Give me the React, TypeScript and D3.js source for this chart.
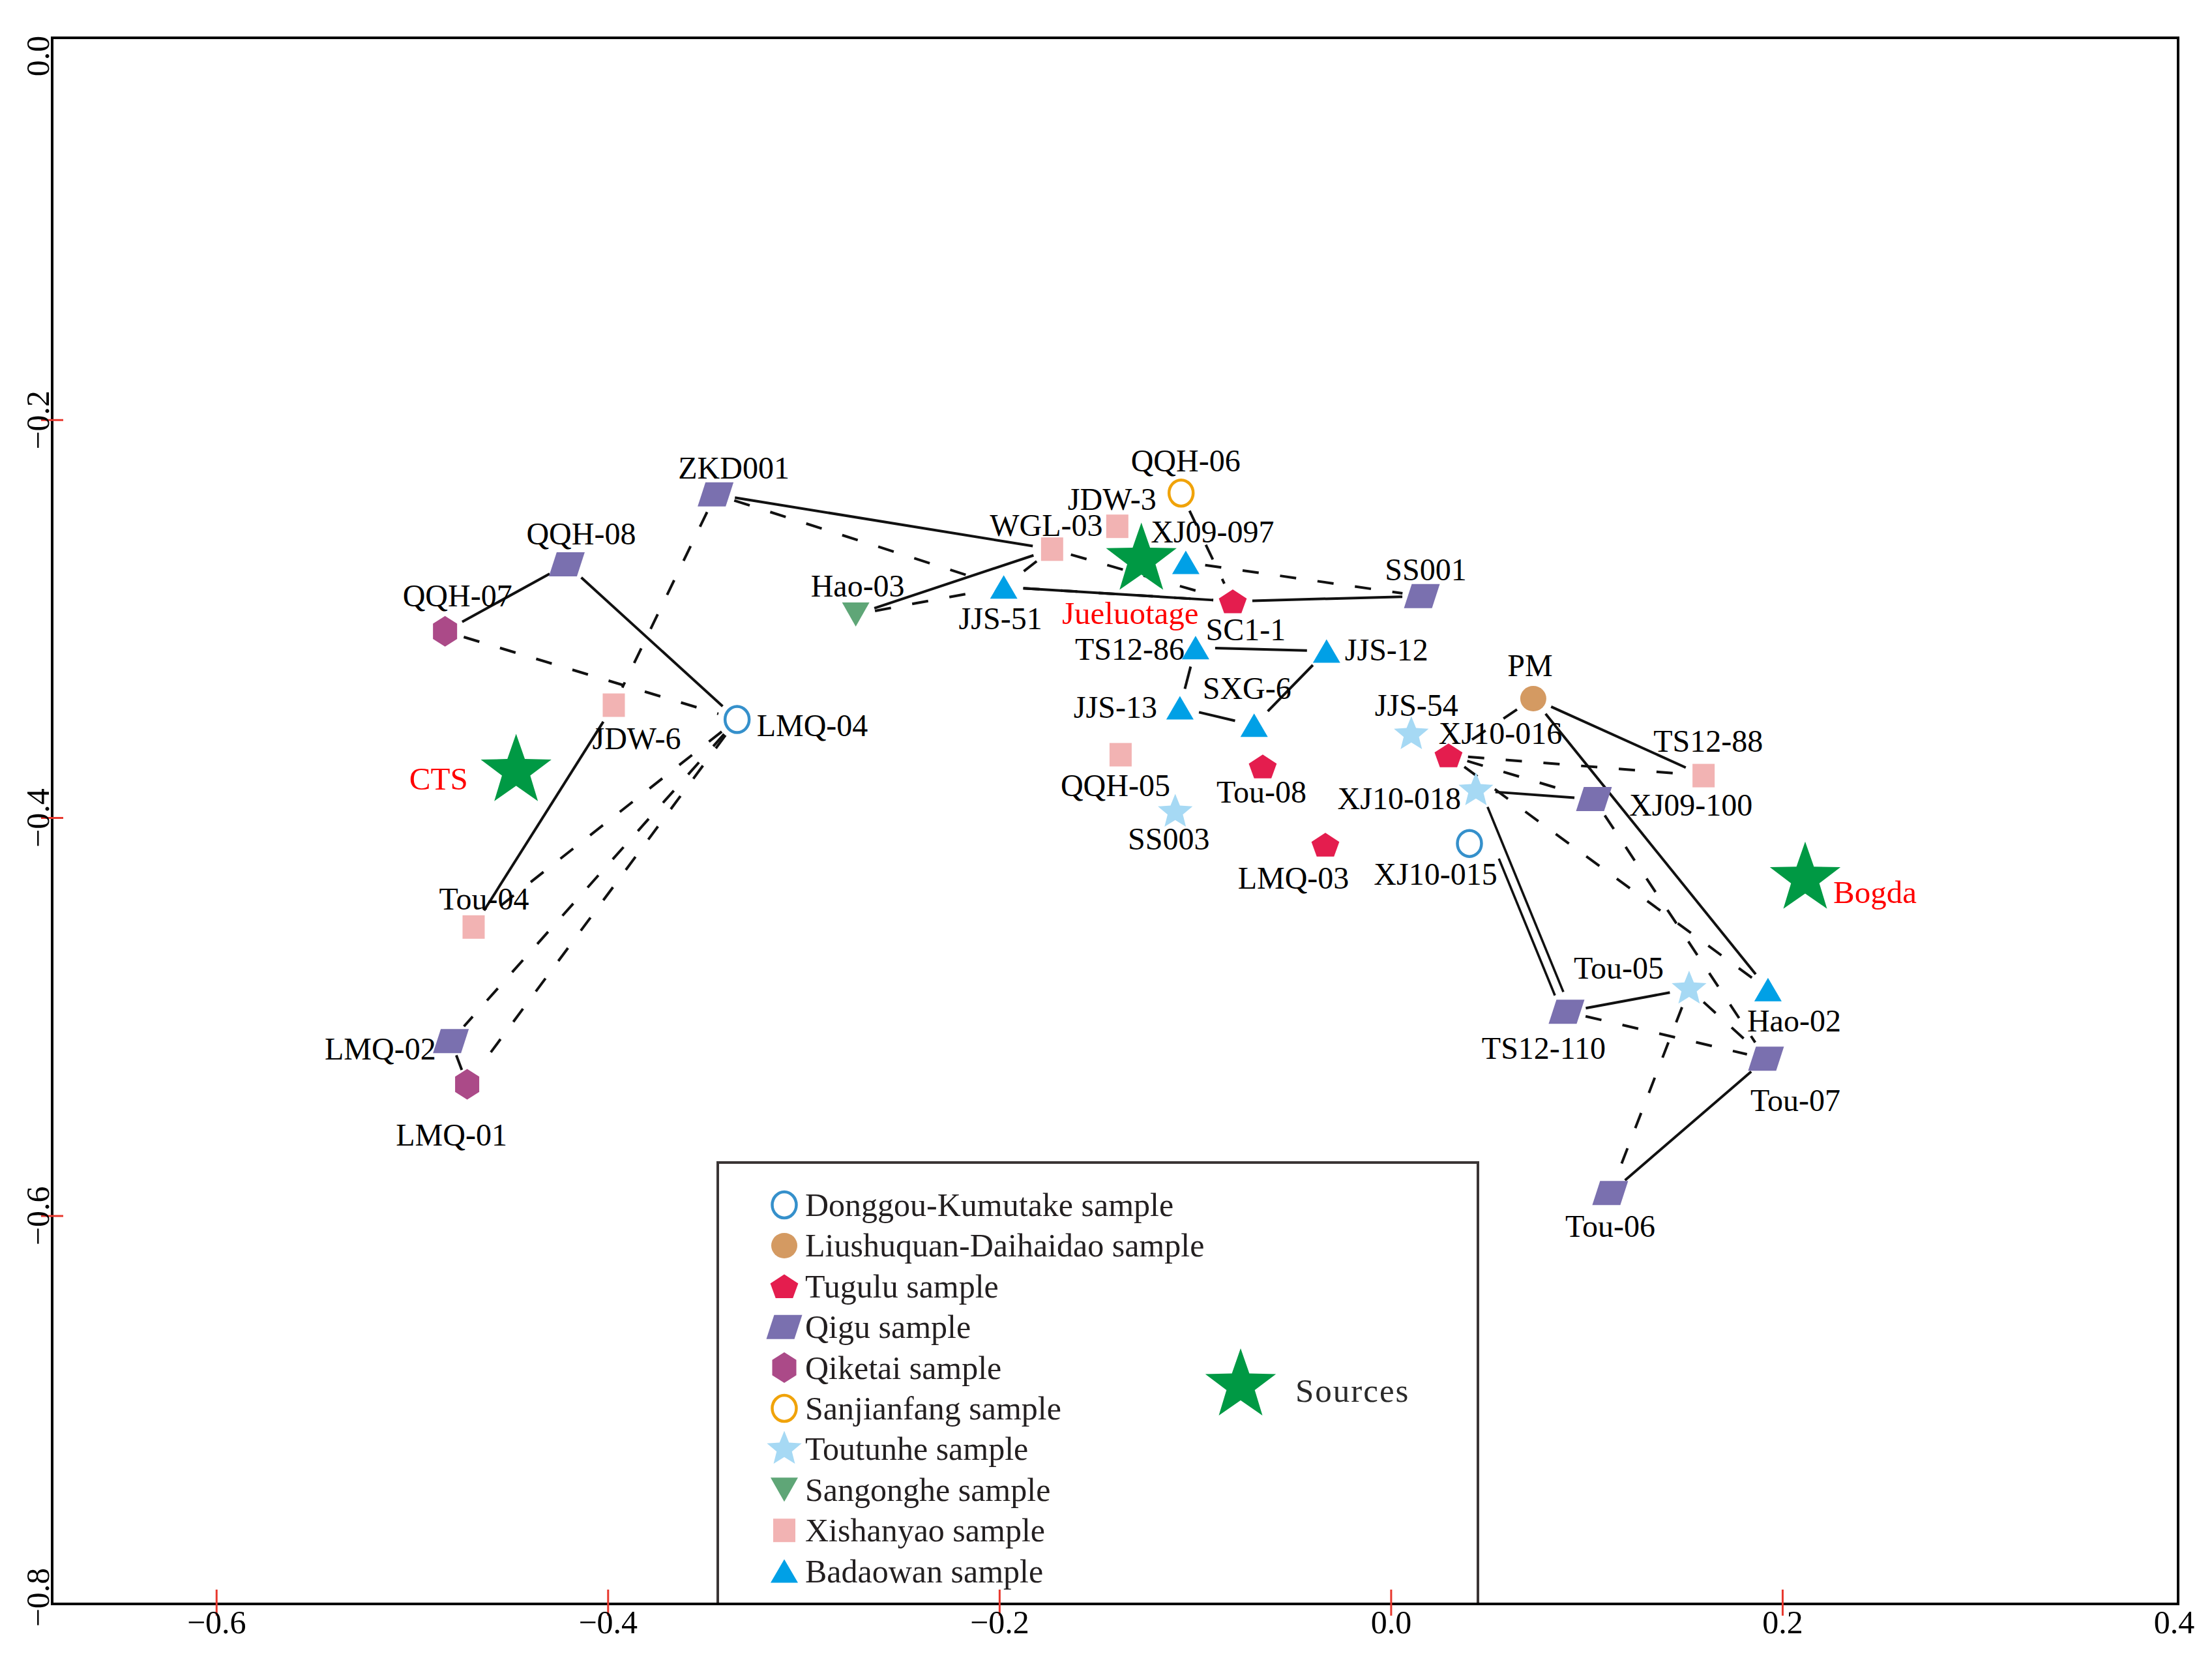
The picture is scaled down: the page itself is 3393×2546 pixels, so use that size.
import React from 'react';
import * as d3 from 'd3';

// ---------------- DATA ----------------
const groups = [
  'Donggou-Kumutake',
  'Liushuquan-Daihaidao',
  'Tugulu',
  'Qigu',
  'Qiketai',
  'Sanjianfang',
  'Toutunhe',
  'Sangonghe',
  'Xishanyao',
  'Badaowan',
];

const sampleNames = [
  'ZKD001', 'QQH-08', 'QQH-07', 'JDW-6', 'LMQ-04', 'Hao-03', 'QQH-06', 'JDW-3', 'WGL-03',
  'XJ09-097', 'JJS-51', 'SC1-1', 'SS001', 'TS12-86', 'JJS-12', 'JJS-13', 'SXG-6', 'JJS-54',
  'QQH-05', 'Tou-08', 'SS003', 'LMQ-03', 'XJ10-016', 'PM', 'XJ10-018', 'TS12-88', 'XJ09-100',
  'XJ10-015', 'Tou-05', 'Hao-02', 'TS12-110', 'Tou-07', 'Tou-06', 'Tou-04', 'LMQ-02', 'LMQ-01',
];
const sampleGroups = [
  'Qigu', 'Qigu', 'Qiketai', 'Xishanyao', 'Donggou-Kumutake', 'Sangonghe', 'Sanjianfang', 'Xishanyao', 'Xishanyao',
  'Badaowan', 'Badaowan', 'Tugulu', 'Qigu', 'Badaowan', 'Badaowan', 'Badaowan', 'Badaowan', 'Toutunhe',
  'Xishanyao', 'Tugulu', 'Toutunhe', 'Tugulu', 'Tugulu', 'Liushuquan-Daihaidao', 'Toutunhe', 'Xishanyao', 'Qigu',
  'Donggou-Kumutake', 'Toutunhe', 'Badaowan', 'Qigu', 'Qigu', 'Qigu', 'Xishanyao', 'Qigu', 'Qiketai',
];
const sampleX = [
  -0.3451, -0.4211, -0.4833, -0.3971, -0.3341, -0.2735, -0.1073, -0.1399, -0.1732,
  -0.1049, -0.1979, -0.0809, 0.0157, -0.0999, -0.033, -0.1079, -0.07, 0.0103,
  -0.1382, -0.0656, -0.1103, -0.0336, 0.0293, 0.0726, 0.0433, 0.1596, 0.1036,
  0.04, 0.1522, 0.1925, 0.0896, 0.1915, 0.1119, -0.4687, -0.4803, -0.472,
];
const sampleY = [
  -0.2374, -0.2725, -0.3062, -0.3433, -0.3505, -0.2977, -0.2367, -0.2534, -0.2649,
  -0.2715, -0.2839, -0.2911, -0.2885, -0.3144, -0.3161, -0.3446, -0.3534, -0.358,
  -0.3682, -0.3741, -0.397, -0.4134, -0.3685, -0.34, -0.3862, -0.3787, -0.3905,
  -0.4128, -0.4859, -0.4862, -0.4974, -0.521, -0.5885, -0.4548, -0.5121, -0.5338,
];

const sourceNames = ['CTS', 'Jueluotage', 'Bogda'];
const sourceX = [-0.447, -0.1276, 0.2115];
const sourceY = [-0.3764, -0.2702, -0.4305];

const solidLinks = [
  ['QQH-07', 'QQH-08'], ['QQH-08', 'LMQ-04'], ['ZKD001', 'WGL-03'], ['Hao-03', 'WGL-03'],
  ['JJS-51', 'SC1-1'], ['SC1-1', 'SS001'], ['TS12-86', 'JJS-12'], ['TS12-86', 'JJS-13'],
  ['JJS-13', 'SXG-6'], ['SXG-6', 'JJS-12'], ['JDW-6', 'Tou-04'], ['LMQ-02', 'LMQ-01'],
  ['PM', 'TS12-88'], ['PM', 'Hao-02'], ['XJ10-018', 'XJ09-100'], ['TS12-110', 'Tou-05'],
  ['Tou-07', 'Tou-06'],
];
const doubleLinks = [['XJ10-018', 'TS12-110']];
const dashedLinks = [
  ['QQH-07', 'LMQ-04'], ['ZKD001', 'JDW-6'], ['ZKD001', 'JJS-51'], ['Hao-03', 'JJS-51'],
  ['WGL-03', 'JJS-51'], ['WGL-03', 'SC1-1'], ['JJS-51', 'SC1-1'], ['QQH-06', 'SC1-1'],
  ['XJ09-097', 'SS001'], ['LMQ-04', 'Tou-04'], ['LMQ-04', 'LMQ-02'], ['LMQ-04', 'LMQ-01'],
  ['PM', 'XJ10-016'], ['XJ10-016', 'TS12-88'], ['XJ10-016', 'XJ09-100'], ['XJ10-016', 'Hao-02'],
  ['XJ09-100', 'Tou-07'], ['Tou-05', 'Tou-07'], ['TS12-110', 'Tou-07'], ['Tou-05', 'Tou-06'],
];

const xTicks = [-0.6, -0.4, -0.2, 0.0, 0.2, 0.4];
const xTickMarks = [-0.6, -0.4, -0.2, 0.0, 0.2];
const yTicks = [0.0, -0.2, -0.4, -0.6, -0.8];
const yTickMarks = [-0.2, -0.4, -0.6];

// ---------------- LAYOUT / STYLE ----------------
const W = 3393;
const H = 2546;
const frame = { left: 80, right: 3341, top: 58, bottom: 2460 };
const xView = [-0.684, 0.402];
const yView = [-0.795, -0.0079];
const FONT = '"Liberation Serif", "Times New Roman", Times, serif';

const groupStyle: Record<string, { shape: string; color: string }> = {
  'Donggou-Kumutake': { shape: 'circleOpen', color: '#3590cb' },
  'Liushuquan-Daihaidao': { shape: 'circle', color: '#d49a62' },
  Tugulu: { shape: 'pentagon', color: '#e41d4e' },
  Qigu: { shape: 'parallelogram', color: '#7a70af' },
  Qiketai: { shape: 'hexagon', color: '#ab4a88' },
  Sanjianfang: { shape: 'circleOpen', color: '#f0a30a' },
  Toutunhe: { shape: 'star', color: '#a6d9f4' },
  Sangonghe: { shape: 'triangleDown', color: '#5fa677' },
  Xishanyao: { shape: 'square', color: '#f2b3b3' },
  Badaowan: { shape: 'triangle', color: '#00a0e6' },
};

// label offsets in px relative to marker: [dx, dy(baseline), anchor]
const labelOffsets: Record<string, [number, number, string]> = {
  ZKD001: [28, -24, 'middle'],
  'QQH-08': [22, -30, 'middle'],
  'QQH-07': [19, -38, 'middle'],
  'JDW-6': [35, 67, 'middle'],
  'LMQ-04': [30, 25, 'start'],
  'Hao-03': [3, -27, 'middle'],
  'QQH-06': [7, -33, 'middle'],
  'JDW-3': [-8, -25, 'middle'],
  'WGL-03': [-9, -20, 'middle'],
  'XJ09-097': [41, -30, 'middle'],
  'JJS-51': [-5, 65, 'middle'],
  'SC1-1': [20, 60, 'middle'],
  SS001: [6, -24, 'middle'],
  'TS12-86': [-17, 19, 'end'],
  'JJS-12': [28, 14, 'start'],
  'SXG-6': [-11, -40, 'middle'],
  'JJS-13': [-35, 15, 'end'],
  'JJS-54': [8, -28, 'middle'],
  'QQH-05': [-8, 63, 'middle'],
  'Tou-08': [-2, 55, 'middle'],
  SS003: [-10, 58, 'middle'],
  'LMQ-03': [-49, 68, 'middle'],
  PM: [-5, -34, 'middle'],
  'XJ10-016': [-15, -17, 'start'],
  'TS12-88': [7, -37, 'middle'],
  'XJ10-018': [-23, 29, 'end'],
  'XJ09-100': [54, 25, 'start'],
  'XJ10-015': [-52, 63, 'middle'],
  'Tou-05': [-39, -16, 'end'],
  'Hao-02': [40, 64, 'middle'],
  'TS12-110': [-35, 72, 'middle'],
  'Tou-07': [45, 80, 'middle'],
  'Tou-06': [0, 67, 'middle'],
  'Tou-04': [16, -27, 'middle'],
  'LMQ-02': [-23, 28, 'end'],
  'LMQ-01': [-24, 94, 'middle'],
  CTS: [-74, 28, 'end'],
  Jueluotage: [-17, 99, 'middle'],
  Bogda: [43, 37, 'start'],
};

function starPath(R: number, ratio: number) {
  const pts: [number, number][] = [];
  for (let i = 0; i < 10; i++) {
    const a = -Math.PI / 2 + (i * Math.PI) / 5;
    const r = i % 2 === 0 ? R : R * ratio;
    pts.push([r * Math.cos(a), r * Math.sin(a)]);
  }
  return 'M' + pts.map((p) => p.join(',')).join('L') + 'Z';
}

function pentagonPath(R: number, sy: number) {
  const pts: [number, number][] = [];
  const off = 0.0955 * R * sy;
  for (let i = 0; i < 5; i++) {
    const a = -Math.PI / 2 + (i * 2 * Math.PI) / 5;
    pts.push([R * Math.cos(a), R * Math.sin(a) * sy + off]);
  }
  return 'M' + pts.map((p) => p.join(',')).join('L') + 'Z';
}

function Marker({ shape, color, cx, cy }: { shape: string; color: string; cx: number; cy: number }) {
  const t = `translate(${cx},${cy})`;
  switch (shape) {
    case 'circleOpen':
      return <ellipse cx={cx} cy={cy} rx={18.5} ry={20} fill="white" stroke={color} strokeWidth={4.5} />;
    case 'circle':
      return <ellipse cx={cx} cy={cy} rx={20} ry={19.5} fill={color} />;
    case 'pentagon':
      return <path transform={t} d={pentagonPath(22.5, 0.9)} fill={color} />;
    case 'parallelogram': {
      const w = 43, h = 37, s = 12;
      return (
        <path
          transform={t}
          d={`M${-w / 2 + s / 2},${-h / 2}L${w / 2 + s / 2},${-h / 2}L${w / 2 - s / 2},${h / 2}L${-w / 2 - s / 2},${h / 2}Z`}
          fill={color}
        />
      );
    }
    case 'hexagon': {
      const w = 37, h = 47;
      return (
        <path
          transform={t}
          d={`M0,${-h / 2}L${w / 2},${-h / 4}L${w / 2},${h / 4}L0,${h / 2}L${-w / 2},${h / 4}L${-w / 2},${-h / 4}Z`}
          fill={color}
        />
      );
    }
    case 'star':
      return <path transform={t} d={starPath(28, 0.44)} fill={color} />;
    case 'triangleDown': {
      const w = 42, h = 37;
      return <path transform={t} d={`M${-w / 2},${-h / 2}L${w / 2},${-h / 2}L0,${h / 2}Z`} fill={color} />;
    }
    case 'square':
      return <rect x={cx - 17} y={cy - 18} width={34} height={36} fill={color} />;
    case 'triangle': {
      const w = 42, h = 36;
      return <path transform={t} d={`M0,${-h / 2}L${w / 2},${h / 2}L${-w / 2},${h / 2}Z`} fill={color} />;
    }
    default:
      return null;
  }
}

export default function App() {
  const x = d3.scaleLinear().domain(xView).range([frame.left, frame.right]);
  const y = d3.scaleLinear().domain(yView).range([frame.bottom, frame.top]);

  const pos: Record<string, [number, number]> = {};
  sampleNames.forEach((n, i) => (pos[n] = [x(sampleX[i]), y(sampleY[i])]));
  sourceNames.forEach((n, i) => (pos[n] = [x(sourceX[i]), y(sourceY[i])]));

  const trimmed = (a: string, b: string, offset = 0, tStart = 0) => {
    const [x1, y1] = pos[a];
    const [x2, y2] = pos[b];
    const dx = x2 - x1, dy = y2 - y1;
    const len = Math.hypot(dx, dy);
    const ux = dx / len, uy = dy / len;
    const trim = Math.min(30, len * 0.33);
    const px = -uy * offset, py = ux * offset;
    const s = Math.max(trim, tStart * len);
    return {
      x1: x1 + ux * s + px,
      y1: y1 + uy * s + py,
      x2: x2 - ux * trim + px,
      y2: y2 - uy * trim + py,
    };
  };

  const fmt = (v: number) => (v < 0 ? '\u2212' : '') + Math.abs(v).toFixed(1);

  const legendX = 1203;
  const legendY0 = 1848;
  const legendDy = 62.4;

  return (
    <svg
      width={W}
      height={H}
      viewBox={`0 0 ${W} ${H}`}
      style={{ position: 'absolute', left: 0, top: 0, background: 'white' }}
      fontFamily={FONT}
    >
      <rect x={0} y={0} width={W} height={H} fill="white" />

      {/* links */}
      <g stroke="#111" fill="none" strokeLinecap="butt">
        {solidLinks.map(([a, b], i) => {
          const l = trimmed(a, b);
          return <line key={'s' + i} {...l} strokeWidth={4} />;
        })}
        {doubleLinks.map(([a, b], i) => {
          const l1 = trimmed(a, b, -7);
          const l2 = trimmed(a, b, 7, 0.3);
          return (
            <g key={'d' + i}>
              <line {...l1} strokeWidth={3.6} />
              <line {...l2} strokeWidth={3.6} />
            </g>
          );
        })}
        {dashedLinks.map(([a, b], i) => {
          const l = trimmed(a, b);
          return <line key={'h' + i} {...l} strokeWidth={4} strokeDasharray="25 33" />;
        })}
      </g>

      {/* source stars */}
      {sourceNames.map((n) => (
        <path key={n} transform={`translate(${pos[n][0]},${pos[n][1]})`} d={starPath(57, 0.4)} fill="#009944" />
      ))}

      {/* sample markers */}
      {sampleNames.map((n, i) => {
        const st = groupStyle[sampleGroups[i]];
        return <Marker key={n} shape={st.shape} color={st.color} cx={pos[n][0]} cy={pos[n][1]} />;
      })}

      {/* labels */}
      <g fontSize={48}>
        {sampleNames.map((n) => {
          const [dx, dy, anchor] = labelOffsets[n];
          return (
            <text key={n} x={pos[n][0] + dx} y={pos[n][1] + dy} textAnchor={anchor} fill="#000">
              {n}
            </text>
          );
        })}
        {sourceNames.map((n) => {
          const [dx, dy, anchor] = labelOffsets[n];
          return (
            <text key={n} x={pos[n][0] + dx} y={pos[n][1] + dy} textAnchor={anchor} fill="#ff0000" fontSize={49}>
              {n}
            </text>
          );
        })}
      </g>

      {/* legend */}
      <rect x={1101} y={1783} width={1166} height={frame.bottom - 1783} fill="white" stroke="#3a3535" strokeWidth={4} />
      {groups.map((g, i) => {
        const st = groupStyle[g];
        const cy = legendY0 + i * legendDy;
        return (
          <g key={g}>
            <Marker shape={st.shape} color={st.color} cx={legendX} cy={cy} />
            <text x={1235} y={cy + 17} fontSize={50} fill="#231f20">
              {g} sample
            </text>
          </g>
        );
      })}
      <path transform="translate(1903,2125)" d={starPath(57, 0.4)} fill="#009944" />
      <text x={1987} y={2150} fontSize={51} fill="#2a2a2a" letterSpacing={2}>
        Sources
      </text>

      {/* frame */}
      <rect
        x={frame.left}
        y={frame.top}
        width={frame.right - frame.left}
        height={frame.bottom - frame.top}
        fill="none"
        stroke="#000"
        strokeWidth={4}
      />

      {/* red ticks */}
      {xTickMarks.map((t) => (
        <line key={'xt' + t} x1={x(t)} x2={x(t)} y1={frame.bottom - 22} y2={frame.bottom + 18} stroke="#e8382e" strokeWidth={3} />
      ))}
      {yTickMarks.map((t) => (
        <line key={'yt' + t} x1={frame.left - 17} x2={frame.left + 17} y1={y(t)} y2={y(t)} stroke="#e8382e" strokeWidth={3} />
      ))}

      {/* tick labels */}
      {xTicks.map((t) => (
        <text key={'xl' + t} x={x(t)} y={frame.bottom + 45} textAnchor="middle" fontSize={50} fill="#000">
          {fmt(t)}
        </text>
      ))}
      {yTicks.map((t) => {
        const cy = Math.min(Math.max(y(t), 86), 2450);
        return (
          <text
            key={'yl' + t}
            transform={`translate(75,${cy}) rotate(-90)`}
            textAnchor="middle"
            fontSize={50}
            fill="#000"
          >
            {fmt(t)}
          </text>
        );
      })}
    </svg>
  );
}
